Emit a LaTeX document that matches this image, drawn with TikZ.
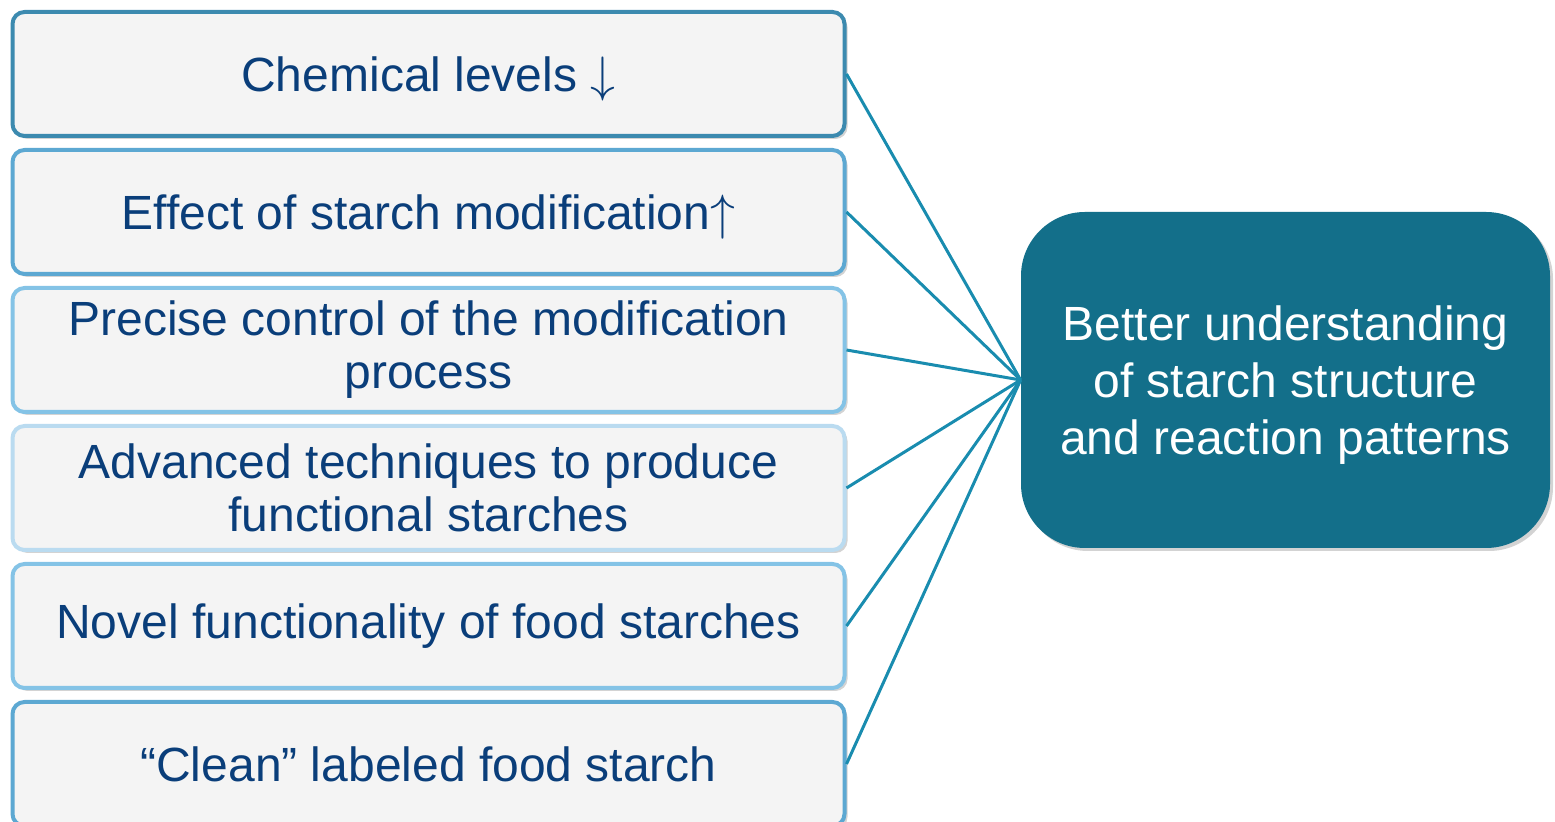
\documentclass[tikz,border=0pt]{standalone}
\usepackage{fontspec}
\setmainfont{Liberation Sans}
\usepackage{tikz}
\usetikzlibrary{positioning,shadows}

\definecolor{boxfill}{RGB}{244,244,244}
\definecolor{itemtext}{RGB}{10,62,122}
\definecolor{rimA}{RGB}{60,138,175}
\definecolor{rimB}{RGB}{92,168,210}
\definecolor{rimC}{RGB}{132,195,230}
\definecolor{rimD}{RGB}{186,219,240}
\definecolor{goalfill}{RGB}{19,111,138}
\definecolor{linkblue}{RGB}{25,140,175}

\begin{document}
\begin{tikzpicture}[x=0.5pt,y=-0.5pt,node distance=69pt,
  item node/.style={draw,rounded corners=6pt,line width=2pt,fill=boxfill,
    text=itemtext,minimum width=416pt,minimum height=62pt,align=center,
    font=\fontsize{24}{26.5}\selectfont,
    drop shadow={shadow xshift=1.5pt,shadow yshift=-1.5pt,opacity=0.35,fill=gray}},
  goal node/.style={fill=goalfill,text=white,rounded corners=32pt,
    minimum width=264.5pt,minimum height=168pt,align=center,text depth=0pt,
    font=\fontsize{24}{28.5}\selectfont,
    drop shadow={shadow xshift=1.5pt,shadow yshift=-1.5pt,opacity=0.35,fill=gray}},
  link/.style={draw=linkblue,line width=1.5pt}]
  \useasboundingbox (0,0) rectangle (1555,822);
  \node[item node,draw=rimA] (levels) at (428.5,74) {Chemical levels $\smash{\downarrow}$};
  \node[item node,draw=rimB] (effect) [below of=levels] {Effect of starch modification$\smash{\uparrow}$};
  \node[item node,draw=rimC] (control) [below of=effect] {Precise control of the modification\\process};
  \node[item node,draw=rimD] (advanced) [below of=control] {Advanced techniques to produce\\functional starches};
  \node[item node,draw=rimC] (novel) [below of=advanced] {Novel functionality of food starches};
  \node[item node,draw=rimB] (clean) [below of=novel] {“Clean” labeled food starch};
  \node[goal node] (better) at (1285.5,380) {Better understanding\\of starch structure\\and reaction patterns};
  \path
    (levels.east) edge [link] (better.west)
    (effect.east) edge [link] (better.west)
    (control.east) edge [link] (better.west)
    (advanced.east) edge [link] (better.west)
    (novel.east) edge [link] (better.west)
    (clean.east) edge [link] (better.west);
\end{tikzpicture}
\end{document}
